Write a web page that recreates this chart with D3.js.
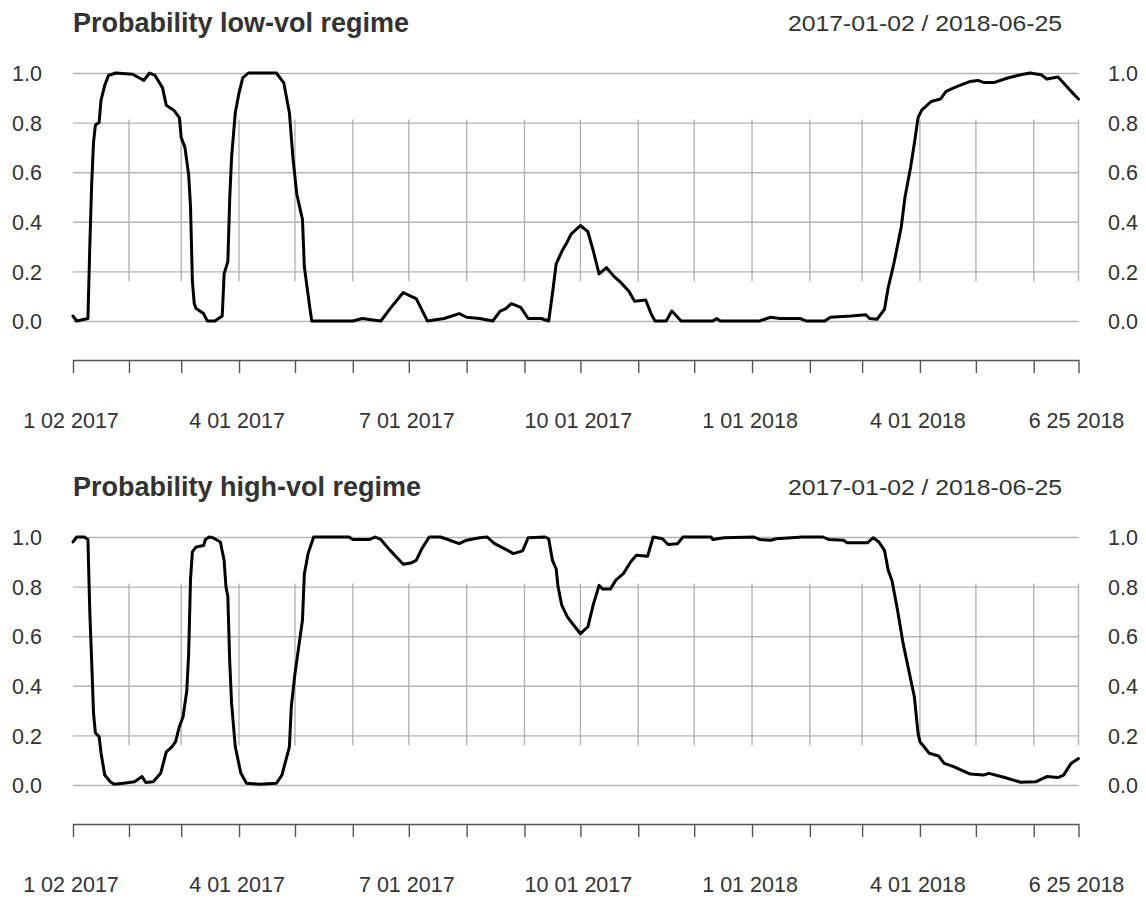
<!DOCTYPE html>
<html>
<head>
<meta charset="utf-8">
<script src="https://cdn.jsdelivr.net/npm/d3@7"></script>
<style>
  html, body { margin: 0; padding: 0; background: #ffffff; }
  svg { display: block; }
  text { font-family: "Liberation Sans", Arial, sans-serif; fill: #333333; }
</style>
</head>
<body>
<svg id="chart" width="1146" height="900"></svg>
<script>
// ---------------- data ----------------
const panelTitles = ["Probability low-vol regime", "Probability high-vol regime"];
const rangeLabel = "2017-01-02 / 2018-06-25";
const startDate = "2017-01-02";
const endDate = "2018-06-25";

const yTicks = [0.0, 0.2, 0.4, 0.6, 0.8, 1.0];

const tickMonths = ["2017-01-02","2017-02-01","2017-03-01","2017-04-01","2017-05-01","2017-06-01",
  "2017-07-01","2017-08-01","2017-09-01","2017-10-01","2017-11-01","2017-12-01","2018-01-01",
  "2018-02-01","2018-03-01","2018-04-01","2018-05-01","2018-06-01","2018-06-25"];
const labelDates = ["2017-01-02","2017-04-01","2017-07-01","2017-10-01","2018-01-01","2018-04-01","2018-06-25"];
const labelTexts = ["1 02 2017","4 01 2017","7 01 2017","10 01 2017","1 01 2018","4 01 2018","6 25 2018"];

const lowVol = [
 ["2017-01-02",0.02],["2017-01-04",0.0],["2017-01-10",0.01],["2017-01-11",0.30],["2017-01-12",0.55],
 ["2017-01-13",0.72],["2017-01-14",0.79],["2017-01-16",0.80],["2017-01-17",0.89],["2017-01-19",0.95],
 ["2017-01-21",0.99],["2017-01-25",1.0],["2017-02-03",0.995],["2017-02-09",0.97],["2017-02-12",1.0],
 ["2017-02-15",0.99],["2017-02-19",0.94],["2017-02-21",0.87],["2017-02-25",0.85],["2017-02-28",0.82],
 ["2017-03-01",0.74],["2017-03-03",0.70],["2017-03-05",0.59],["2017-03-06",0.46],["2017-03-07",0.16],
 ["2017-03-08",0.07],["2017-03-09",0.05],["2017-03-13",0.03],["2017-03-15",0.0],["2017-03-19",0.0],
 ["2017-03-23",0.02],["2017-03-24",0.19],["2017-03-26",0.24],["2017-03-27",0.49],["2017-03-28",0.66],
 ["2017-03-30",0.84],["2017-04-01",0.92],["2017-04-03",0.98],["2017-04-06",1.0],["2017-04-21",1.0],
 ["2017-04-25",0.96],["2017-04-28",0.84],["2017-04-30",0.65],["2017-05-02",0.51],["2017-05-05",0.41],
 ["2017-05-06",0.22],["2017-05-09",0.05],["2017-05-10",0.0],["2017-06-01",0.0],["2017-06-06",0.01],
 ["2017-06-16",0.0],["2017-06-21",0.05],["2017-06-28",0.115],["2017-07-02",0.10],["2017-07-05",0.09],
 ["2017-07-11",0.0],["2017-07-20",0.01],["2017-07-28",0.03],["2017-08-01",0.015],["2017-08-08",0.01],
 ["2017-08-15",0.0],["2017-08-19",0.04],["2017-08-22",0.05],["2017-08-25",0.07],["2017-08-30",0.055],
 ["2017-09-03",0.01],["2017-09-10",0.01],["2017-09-14",0.0],["2017-09-16",0.11],["2017-09-18",0.23],
 ["2017-09-21",0.28],["2017-09-24",0.32],["2017-09-26",0.35],["2017-10-01",0.385],["2017-10-05",0.36],
 ["2017-10-08",0.28],["2017-10-11",0.19],["2017-10-15",0.215],["2017-10-19",0.18],["2017-10-22",0.16],
 ["2017-10-27",0.12],["2017-10-30",0.08],["2017-11-05",0.085],["2017-11-08",0.027],["2017-11-10",0.0],
 ["2017-11-16",0.0],["2017-11-19",0.04],["2017-11-24",0.0],["2017-12-11",0.0],["2017-12-13",0.01],
 ["2017-12-15",0.0],["2018-01-05",0.0],["2018-01-11",0.015],["2018-01-16",0.01],["2018-01-27",0.01],
 ["2018-01-30",0.0],["2018-02-09",0.0],["2018-02-12",0.015],["2018-02-23",0.02],["2018-03-03",0.025],
 ["2018-03-05",0.01],["2018-03-09",0.007],["2018-03-13",0.047],["2018-03-15",0.135],["2018-03-18",0.23],
 ["2018-03-22",0.38],["2018-03-24",0.5],["2018-03-27",0.62],["2018-03-29",0.716],["2018-03-31",0.82],
 ["2018-04-02",0.85],["2018-04-07",0.885],["2018-04-12",0.895],["2018-04-15",0.926],["2018-04-21",0.946],
 ["2018-04-28",0.966],["2018-05-02",0.97],["2018-05-05",0.962],["2018-05-11",0.962],["2018-05-18",0.98],
 ["2018-05-25",0.993],["2018-05-30",1.0],["2018-06-05",0.993],["2018-06-08",0.976],["2018-06-14",0.984],
 ["2018-06-17",0.96],["2018-06-21",0.926],["2018-06-25",0.895]
];

const highVol = [
 ["2017-01-02",0.98],["2017-01-04",1.0],["2017-01-08",1.0],["2017-01-10",0.99],["2017-01-11",0.70],
 ["2017-01-12",0.50],["2017-01-13",0.29],["2017-01-14",0.21],["2017-01-16",0.195],["2017-01-17",0.13],
 ["2017-01-19",0.04],["2017-01-22",0.013],["2017-01-24",0.003],["2017-01-29",0.007],["2017-02-04",0.013],
 ["2017-02-08",0.034],["2017-02-10",0.01],["2017-02-14",0.013],["2017-02-18",0.047],["2017-02-21",0.134],
 ["2017-02-24",0.154],["2017-02-26",0.175],["2017-02-28",0.235],["2017-03-02",0.275],["2017-03-04",0.38],
 ["2017-03-05",0.53],["2017-03-06",0.83],["2017-03-07",0.94],["2017-03-09",0.96],["2017-03-13",0.966],
 ["2017-03-14",0.99],["2017-03-16",1.0],["2017-03-18",0.997],["2017-03-22",0.98],["2017-03-24",0.906],
 ["2017-03-25",0.80],["2017-03-26",0.76],["2017-03-27",0.50],["2017-03-28",0.33],["2017-03-30",0.154],
 ["2017-04-02",0.047],["2017-04-05",0.007],["2017-04-12",0.003],["2017-04-21",0.007],["2017-04-24",0.04],
 ["2017-04-28",0.154],["2017-04-29",0.315],["2017-05-01",0.45],["2017-05-03",0.557],["2017-05-05",0.664],
 ["2017-05-06",0.85],["2017-05-08",0.933],["2017-05-11",1.0],["2017-05-30",1.0],["2017-06-01",0.99],
 ["2017-06-10",0.99],["2017-06-13",1.0],["2017-06-16",0.99],["2017-06-21",0.946],["2017-06-28",0.89],
 ["2017-07-02",0.895],["2017-07-05",0.906],["2017-07-08",0.953],["2017-07-12",1.0],["2017-07-18",1.0],
 ["2017-07-23",0.987],["2017-07-28",0.973],["2017-08-01",0.987],["2017-08-08",0.997],["2017-08-12",1.0],
 ["2017-08-16",0.973],["2017-08-23",0.946],["2017-08-26",0.933],["2017-08-31",0.944],["2017-09-03",0.997],
 ["2017-09-12",1.0],["2017-09-14",0.993],["2017-09-16",0.906],["2017-09-18",0.872],["2017-09-19",0.80],
 ["2017-09-21",0.725],["2017-09-24",0.678],["2017-09-26",0.658],["2017-10-01",0.61],["2017-10-05",0.638],
 ["2017-10-08",0.73],["2017-10-11",0.805],["2017-10-13",0.79],["2017-10-17",0.79],["2017-10-20",0.826],
 ["2017-10-24",0.852],["2017-10-28",0.90],["2017-10-31",0.926],["2017-11-06",0.922],["2017-11-09",1.0],
 ["2017-11-14",0.993],["2017-11-17",0.97],["2017-11-22",0.973],["2017-11-25",1.0],["2017-12-10",1.0],
 ["2017-12-11",0.99],["2017-12-17",0.997],["2018-01-02",1.0],["2018-01-05",0.99],["2018-01-11",0.987],
 ["2018-01-14",0.993],["2018-01-28",1.0],["2018-02-08",1.0],["2018-02-11",0.99],["2018-02-19",0.987],
 ["2018-02-21",0.977],["2018-03-04",0.977],["2018-03-07",0.997],["2018-03-10",0.98],["2018-03-13",0.946],
 ["2018-03-15",0.866],["2018-03-17",0.825],["2018-03-20",0.705],["2018-03-23",0.57],["2018-03-26",0.463],
 ["2018-03-29",0.356],["2018-03-31",0.208],["2018-04-01",0.175],["2018-04-06",0.128],["2018-04-11",0.117],
 ["2018-04-14",0.087],["2018-04-19",0.074],["2018-04-28",0.044],["2018-05-05",0.04],["2018-05-08",0.047],
 ["2018-05-16",0.031],["2018-05-25",0.011],["2018-06-02",0.013],["2018-06-08",0.034],["2018-06-14",0.03],
 ["2018-06-17",0.04],["2018-06-21",0.087],["2018-06-25",0.107]
];

// ---------------- drawing ----------------
const parse = d3.timeParse("%Y-%m-%d");
const svg = d3.select("#chart");
svg.append("rect").attr("width", 1146).attr("height", 900).attr("fill", "#ffffff");

const x = d3.scaleTime().domain([parse(startDate), parse(endDate)]).range([73, 1078.5]);
const y = d3.scaleLinear().domain([0, 1]).range([321, 73]);

function drawPanel(offsetY, title, series) {
  const g = svg.append("g").attr("transform", `translate(0,${offsetY})`);

  // title and date range
  g.append("text").attr("x", 73).attr("y", 32)
    .attr("font-size", 27).attr("font-weight", "bold").text(title);
  g.append("text").attr("x", 1062).attr("y", 31).attr("text-anchor", "end")
    .attr("font-size", 22.5).attr("textLength", 274).attr("lengthAdjust", "spacingAndGlyphs")
    .text(rangeLabel);

  // horizontal grid
  const hg = g.append("g").attr("transform", "translate(73,0)")
    .call(d3.axisLeft(y).tickValues(yTicks).tickSize(-(1078.5 - 73)).tickFormat(""));
  hg.select(".domain").remove();
  hg.selectAll("line").attr("stroke", "#b4b4b4").attr("stroke-width", 1.4);

  // vertical grid (monthly)
  const vDates = tickMonths.slice(1).map(parse);
  g.append("g").selectAll("line").data(vDates).join("line")
    .attr("x1", d => x(d)).attr("x2", d => x(d))
    .attr("y1", 119.5).attr("y2", 281.5)
    .attr("stroke", "#b4b4b4").attr("stroke-width", 1.4);

  // y labels left and right
  const yl = g.append("g").attr("transform", "translate(45,0)")
    .call(d3.axisLeft(y).tickValues(yTicks).tickSize(0).tickPadding(3).tickFormat(d3.format(".1f")));
  yl.select(".domain").remove();
  yl.selectAll("text").attr("font-size", 21.5).attr("font-family", "Liberation Sans, Arial, sans-serif")
    .attr("fill", "#333").attr("dy", "0.36em");
  const yr = g.append("g").attr("transform", "translate(1105,0)")
    .call(d3.axisRight(y).tickValues(yTicks).tickSize(0).tickPadding(3).tickFormat(d3.format(".1f")));
  yr.select(".domain").remove();
  yr.selectAll("text").attr("font-size", 21.5).attr("font-family", "Liberation Sans, Arial, sans-serif")
    .attr("fill", "#333").attr("dy", "0.36em");

  // x axis with monthly ticks
  const xa = g.append("g").attr("transform", "translate(0,360)")
    .call(d3.axisBottom(x).tickValues(tickMonths.map(parse)).tickSize(13).tickSizeOuter(0).tickFormat(""));
  xa.select(".domain").attr("stroke", "#555").attr("stroke-width", 1.4);
  xa.selectAll(".tick line").attr("stroke", "#555").attr("stroke-width", 1.4);

  // x labels
  const lblMap = new Map(labelDates.map((d, i) => [+parse(d), labelTexts[i]]));
  const xl = g.append("g").attr("transform", "translate(-2.5,360)")
    .call(d3.axisBottom(x).tickValues(labelDates.map(parse)).tickSize(0).tickPadding(0)
      .tickFormat(d => lblMap.get(+d)));
  xl.select(".domain").remove();
  xl.selectAll("text").attr("font-size", 21.5).attr("font-family", "Liberation Sans, Arial, sans-serif")
    .attr("fill", "#333").attr("y", 68).attr("dy", 0);

  // series line
  const line = d3.line().x(d => x(parse(d[0]))).y(d => y(d[1]));
  g.append("path").datum(series).attr("d", line)
    .attr("fill", "none").attr("stroke", "#000").attr("stroke-width", 3)
    .attr("stroke-linejoin", "round").attr("stroke-linecap", "round");
}

drawPanel(0, panelTitles[0], lowVol);
drawPanel(464, panelTitles[1], highVol);
</script>
</body>
</html>
